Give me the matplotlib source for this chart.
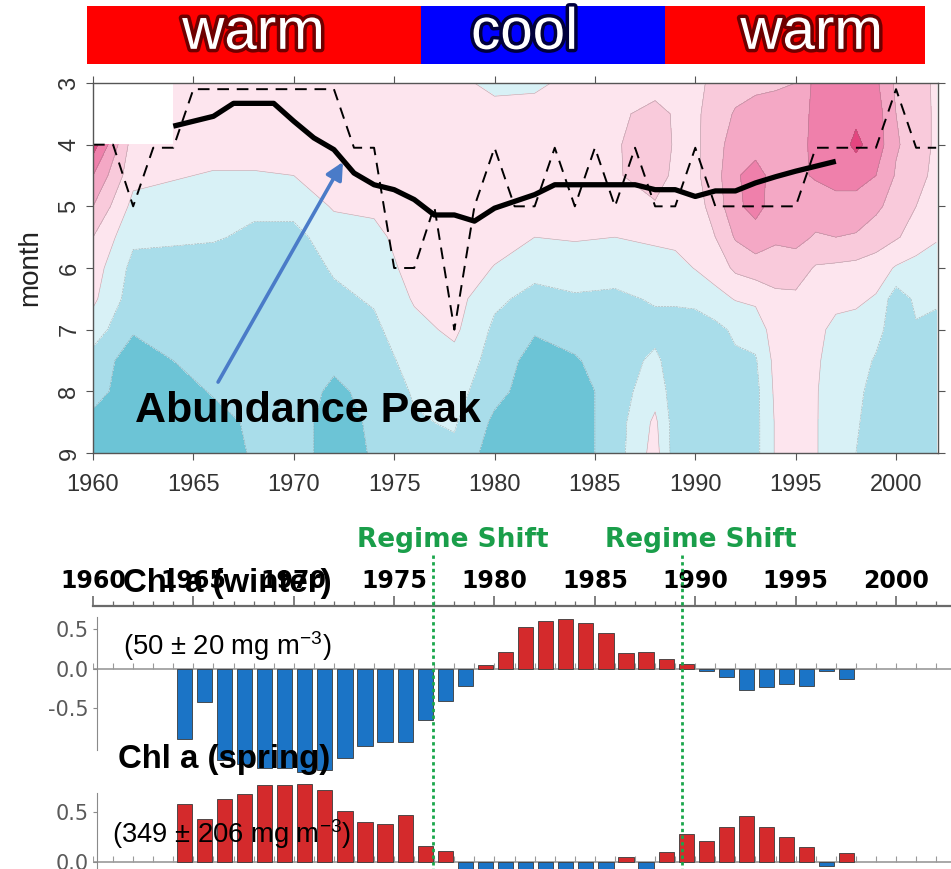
import numpy as np
import matplotlib
matplotlib.use('Agg')
import matplotlib.pyplot as plt
import matplotlib.transforms as mtransforms
from matplotlib import font_manager, patheffects
from matplotlib.lines import Line2D
from matplotlib.ticker import MultipleLocator

plt.rcParams['font.family'] = ['Liberation Sans', 'DejaVu Sans']

# ---- peak-timing anomaly field (rows: years, values for months 3, 3.5, ... 9) ----
field_years = [1960, 1962, 1964, 1966, 1968, 1970, 1972, 1974, 1976, 1978, 1980,
               1982, 1984, 1986, 1988, 1989, 1990, 1991, 1992, 1993, 1994, 1995,
               1996, 1997, 1998, 1999, 2000, 2001, 2002]
field_months = [3.0, 3.5, 4.0, 4.5, 5.0, 5.5, 6.0, 6.5, 7.0, 7.5, 8.0, 8.5, 9.0]
anomaly = [
    [np.nan, np.nan, 4.5, 3.0, 2.0, 1.0, 0.5, 0.2, -0.5, -1.4, -1.6, -2.3, -2.5],   # 1960
    [np.nan, np.nan, 0.5, 0.3, -0.3, -0.8, -1.3, -1.5, -1.9, -2.5, -2.6, -2.6, -2.6],  # 1962
    [0.5, 0.5, 0.5, 0.1, -0.5, -0.8, -1.5, -1.5, -1.6, -2.0, -2.5, -2.5, -2.5],     # 1964
    [0.5, 0.5, 0.5, -0.1, -0.6, -0.9, -1.5, -1.5, -1.5, -1.6, -1.9, -2.4, -2.5],    # 1966
    [0.5, 0.5, 0.5, -0.1, -0.8, -1.2, -1.5, -1.5, -1.5, -1.5, -1.6, -1.8, -1.9],    # 1968
    [0.5, 0.5, 0.5, 0.0, -0.7, -1.3, -1.5, -1.5, -1.5, -1.5, -1.5, -1.5, -1.5],     # 1970
    [0.5, 0.5, 0.5, 0.5, 0.1, -0.5, -0.9, -1.2, -1.5, -1.8, -2.2, -2.5, -2.5],      # 1972
    [0.5, 0.5, 0.5, 0.5, 0.2, -0.3, -0.6, -0.9, -1.2, -1.5, -1.7, -1.8, -1.9],      # 1974
    [0.5, 0.6, 0.7, 0.7, 0.7, 0.6, 0.4, 0.1, -0.3, -0.6, -0.9, -1.1, -1.3],         # 1976
    [0.3, 0.6, 0.8, 0.8, 0.8, 0.7, 0.6, 0.4, 0.2, -0.3, -0.6, -0.9, -1.2],          # 1978
    [-0.3, 0.4, 0.7, 0.7, 0.6, 0.4, -0.05, -0.8, -1.2, -1.4, -1.7, -2.2, -2.5],     # 1980
    [-0.2, 0.4, 0.6, 0.6, 0.5, 0.0, -0.7, -1.3, -1.9, -2.4, -2.5, -2.5, -2.5],      # 1982
    [0.3, 0.6, 0.7, 0.7, 0.5, 0.1, -0.6, -1.1, -1.6, -2.1, -2.5, -2.5, -2.5],       # 1984
    [0.5, 0.8, 0.9, 0.9, 0.5, 0.0, -0.6, -1.2, -1.4, -1.5, -1.5, -1.5, -1.5],       # 1986
    [0.6, 1.3, 1.5, 1.4, 0.9, 0.2, -0.5, -0.9, -1.3, -0.8, -0.4, 0.2, 0.4],         # 1988
    [0.6, 0.9, 0.9, 0.8, 0.6, 0.3, -0.4, -0.9, -1.3, -1.5, -1.5, -1.5, -1.5],       # 1989
    [0.7, 0.8, 0.8, 0.8, 0.6, 0.4, 0.05, -0.9, -1.2, -1.4, -1.5, -1.5, -1.5],       # 1990
    [1.3, 1.5, 1.6, 1.6, 1.4, 1.0, 0.4, -0.3, -1.3, -1.4, -1.5, -1.5, -1.5],        # 1991
    [1.6, 2.1, 2.5, 2.9, 2.8, 2.1, 1.2, 0.05, -0.8, -1.2, -1.4, -1.5, -1.5],        # 1992
    [1.8, 2.3, 2.7, 3.3, 3.3, 2.6, 1.5, 0.2, -0.6, -1.1, -1.3, -1.3, -1.3],         # 1993
    [1.9, 2.3, 2.6, 2.7, 2.6, 2.2, 1.4, 0.8, 0.5, 0.3, 0.2, 0.1, 0.1],              # 1994
    [2.0, 2.4, 2.7, 2.8, 2.7, 2.3, 1.5, 0.8, 0.5, 0.4, 0.4, 0.4, 0.4],              # 1995
    [3.3, 3.3, 3.2, 3.1, 2.5, 1.9, 0.9, 0.6, 0.3, 0.2, 0.1, 0.1, 0.1],              # 1996
    [3.5, 3.6, 3.5, 3.3, 2.7, 2.0, 0.8, 0.3, -0.3, -0.6, -0.7, -0.8, -0.8],         # 1997
    [3.6, 3.8, 4.2, 3.4, 2.6, 1.9, 0.7, 0.2, -0.4, -0.6, -0.8, -0.9, -1.0],         # 1998
    [3.2, 3.5, 3.6, 3.0, 2.2, 1.5, 0.5, -0.1, -0.7, -1.1, -1.3, -1.4, -1.4],        # 1999
    [1.8, 2.0, 2.1, 1.9, 1.6, 1.1, -0.1, -1.6, -1.5, -1.5, -1.5, -1.5, -1.5],       # 2000
    [1.5, 1.6, 1.6, 1.4, 1.0, 0.6, -0.4, -0.8, -1.1, -1.3, -1.3, -1.3, -1.3],       # 2001
    [0.8, 0.8, 0.8, 0.7, 0.5, 0.1, -0.5, -0.9, -1.2, -1.4, -1.4, -1.4, -1.4],       # 2002
]
field_levels = [-3.5, -2, -1, 0, 1, 2, 3, 4, 5]
field_colors = ['#6cc4d6', '#a9ddea', '#d8f1f6', '#fde5ee',
                '#f9cadb', '#f4a8c5', '#ef80ab', '#e4457f']

# abundance peak month: smoothed (solid) and yearly (dashed)
peak_years = list(range(1964, 1998))
peak_smooth = [3.70, 3.62, 3.54, 3.33, 3.33, 3.33, 3.62, 3.89, 4.08, 4.46,
               4.65, 4.73, 4.89, 5.14, 5.14, 5.24, 5.03, 4.92, 4.81, 4.65,
               4.65, 4.65, 4.65, 4.65, 4.73, 4.73, 4.84, 4.75, 4.75, 4.62,
               4.52, 4.43, 4.35, 4.27]
yearly_years = list(range(1960, 2003))
peak_yearly = [4.0, 4.0, 5, 4.05, 4.05, 3.1, 3.1, 3.1, 3.1, 3.1, 3.1, 3.1, 3.1,
               4.05, 4.05, 6, 6, 5, 7, 5, 4.05, 5, 5, 4.05, 5, 4.05, 5, 4.05,
               5, 5, 4.05, 5, 5, 5, 5, 5, 4.05, 4.05, 4.05, 4.05, 3.1, 4.05, 4.05]

# climate periods along the top
period_edges = [1959.7, 1976.35, 1988.5, 2001.45]
period_names = ['warm', 'cool', 'warm']
period_colors = ['#ff0000', '#0000ff', '#ff0000']
period_glow = ['#6e0000', '#00003c', '#6e0000']
period_label_x = [1968.0, 1981.5, 1995.8]

# chlorophyll a anomalies
chl_years = list(range(1964, 1998))
chl_winter = [-0.886, -0.42, -1.15, -1.2, -1.25, -1.25, -1.3, -1.28, -1.13, -0.97,
              -0.93, -0.93, -0.64, -0.41, -0.22, 0.055, 0.22, 0.53, 0.61, 0.63,
              0.585, 0.45, 0.2, 0.215, 0.12, 0.064, -0.02, -0.10, -0.26, -0.23,
              -0.19, -0.21, -0.03, -0.13]
chl_spring = [0.58, 0.43, 0.63, 0.68, 0.77, 0.77, 0.78, 0.72, 0.51, 0.40,
              0.38, 0.47, 0.16, 0.11, -0.25, -0.35, -0.4, -0.4, -0.45, -0.4,
              -0.35, -0.3, 0.05, -0.2, 0.10, 0.28, 0.21, 0.35, 0.46, 0.35,
              0.25, 0.145, -0.04, 0.085]
regime_shifts = [1976.95, 1989.35]

W, H = 951, 869
fig = plt.figure(figsize=(W / 100, H / 100), dpi=100)


def box(left, top, right, bottom):
    return [left / W, 1 - bottom / H, (right - left) / W, (bottom - top) / H]


names = {f.name for f in font_manager.fontManager.ttflist}
narrow = 'Liberation Sans Narrow' if 'Liberation Sans Narrow' in names else 'Liberation Sans'
shrink = 1.0 if narrow == 'Liberation Sans Narrow' else 0.82
plt.rcParams['mathtext.fontset'] = 'custom'
plt.rcParams['mathtext.rm'] = narrow

# ---- header bar ----
axh = fig.add_axes(box(93, 6, 938, 64))
axh.set_xlim(1960, 2002.09)
axh.set_ylim(0, 1)
axh.axis('off')
for i in range(3):
    axh.barh(0.5, period_edges[i + 1] - period_edges[i], left=period_edges[i],
             height=1, color=period_colors[i], clip_on=False)
    axh.text(period_label_x[i], 0.52, period_names[i], color='white', fontsize=42,
             ha='center', va='center',
             path_effects=[patheffects.withStroke(linewidth=5, foreground=period_glow[i])])

# ---- contour panel ----
ax = fig.add_axes(box(93, 83, 938, 453))
Z = np.ma.masked_invalid(np.array(anomaly).T)
ax.contourf(field_years, field_months, Z, levels=field_levels, colors=field_colors,
            corner_mask=False)
ax.contour(field_years, field_months, Z, levels=field_levels[1:-1],
           colors='#777777', linewidths=0.4, alpha=0.55, corner_mask=False)
ax.plot(yearly_years, peak_yearly, color='black', lw=1.4, dashes=(6, 4))
ax.plot(peak_years, peak_smooth, color='black', lw=3.8, solid_capstyle='butt')
ax.annotate('', xy=(1972.45, 4.28), xytext=(1966.23, 7.85),
            arrowprops=dict(arrowstyle='-|>', color='#4a7bc8', lw=2.6,
                            mutation_scale=26, shrinkA=0, shrinkB=0))
ax.text(1962.09, 8.5, 'Abundance Peak', fontsize=31, fontweight='bold',
        ha='left', va='baseline')
ax.set_xlim(1960, 2002.09)
ax.set_ylim(9, 3)
ax.set_xticks(range(1960, 2001, 5))
ax.set_yticks(range(3, 10))
ax.set_ylabel('month', fontsize=20, color='#222222')
ax.yaxis.set_label_coords(-0.059, 0.5)
ax.tick_params(which='both', direction='out', top=True, right=True, length=5,
               width=0.8, color='#555555', labelsize=17, labelcolor='#333333')
ax.tick_params(axis='x', pad=10)
ax.tick_params(axis='y', pad=4)
for lbl in ax.get_yticklabels():
    lbl.set_rotation(90)
    lbl.set_va('center')
for s in ax.spines.values():
    s.set_color('#555555')
    s.set_linewidth(1.0)

# ---- chlorophyll bars ----
bar_x = [y + 0.55 for y in chl_years]
ax_w = fig.add_axes(box(93, 606, 951, 790))
ax_s = fig.add_axes(box(93, 780, 951, 960))
for a, vals, ylim, bounds, tks in [
        (ax_w, chl_winter, (-1.532, 0.797), (-1.03, 0.66), [0.5, 0.0, -0.5]),
        (ax_s, chl_spring, (-0.98, 0.82), (-1.0, 0.69), [0.5, 0.0])]:
    a.set_facecolor('none')
    cols = ['#d42a2c' if v >= 0 else '#1b74c6' for v in vals]
    a.axhline(0, color='#9a9a9a', lw=1.2, zorder=1)
    a.vlines(range(1960, 2003), 0, 0.035 * (ylim[1] - ylim[0]), color='#9a9a9a', lw=0.8, zorder=1)
    a.bar(bar_x, vals, width=0.76, color=cols, edgecolor='#3a3a3a', lw=0.6, zorder=2)
    a.set_xlim(1960, 2002.74)
    a.set_ylim(*ylim)
    for side in ['right', 'bottom', 'top']:
        a.spines[side].set_visible(False)
    a.spines['left'].set_bounds(*bounds)
    a.spines['left'].set_position(('data', 1960.2))
    a.spines['left'].set_color('#8a8a8a')
    a.set_yticks(tks)
    a.set_yticklabels([f'{t:.1f}' for t in tks], family='DejaVu Sans')
    a.tick_params(axis='y', length=3, color='#8a8a8a', labelsize=15,
                  labelcolor='#5a5a5a', pad=3)

ax_s.set_xticks([])
ax_w.spines['top'].set_visible(True)
ax_w.spines['top'].set_color('#6a6a6a')
ax_w.spines['top'].set_linewidth(1.6)
ax_w.xaxis.tick_top()
ax_w.set_xticks(range(1960, 2001, 5))
ax_w.set_xticklabels([str(y) for y in range(1960, 2001, 5)],
                     family='DejaVu Sans', fontweight='bold')
ax_w.xaxis.set_minor_locator(MultipleLocator(1))
ax_w.tick_params(axis='x', which='major', direction='out', length=7, width=1.2,
                 color='#6a6a6a', labelsize=17, pad=2)
ax_w.tick_params(axis='x', which='minor', direction='out', length=3.5, width=0.9,
                 color='#6a6a6a')

# regime shift markers
tr = mtransforms.blended_transform_factory(ax_w.transData, fig.transFigure)
for yr in regime_shifts:
    fig.add_artist(Line2D([yr, yr], [1 - 555 / H, 0], transform=tr,
                          color='#1aa64b', lw=2, linestyle=(0, (1.2, 1.2))))
    fig.text(yr + 0.95, 1 - 540 / H, 'Regime Shift', transform=tr,
             color='#1a9e4a', fontsize=19, fontweight='bold', family='DejaVu Sans',
             ha='center', va='center')

fig.text(123 / W, 1 - 592 / H, 'Chl a (winter)', family=narrow, fontweight='bold',
         fontsize=29 * shrink, va='baseline', ha='left', zorder=5)
fig.text(123 / W, 1 - 655 / H, r'(50 ± 20 mg m$^{-3}$)', family=narrow,
         fontsize=24 * shrink, va='baseline', ha='left', zorder=5)
fig.text(118 / W, 1 - 768 / H, 'Chl a (spring)', family=narrow, fontweight='bold',
         fontsize=29 * shrink, va='baseline', ha='left', zorder=5)
fig.text(112 / W, 1 - 843 / H, r'(349 ± 206 mg m$^{-3}$)', family=narrow,
         fontsize=24 * shrink, va='baseline', ha='left', zorder=5)

fig.savefig('out.png', dpi=100)
